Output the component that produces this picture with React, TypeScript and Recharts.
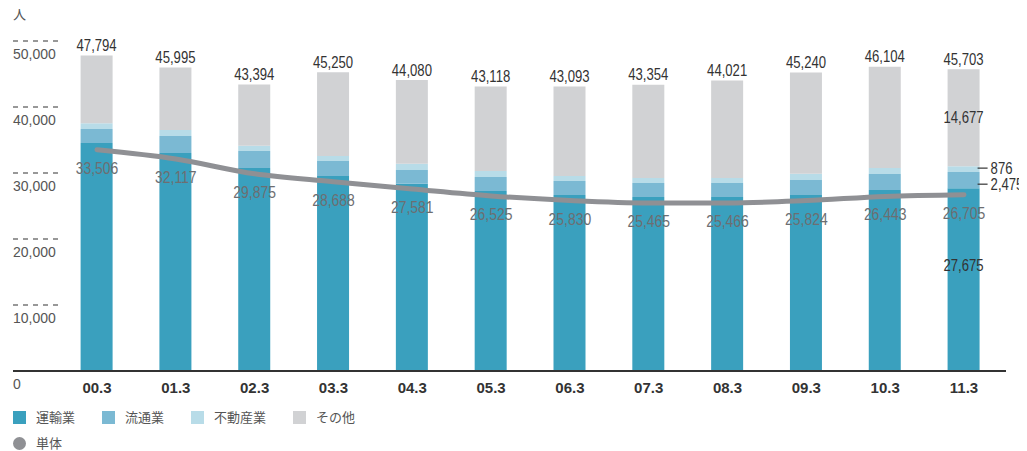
import React from 'react';
import {
  ComposedChart,
  Bar,
  Line,
  XAxis,
  YAxis,
  LabelList,
} from 'recharts';

const categories = ['00.3', '01.3', '02.3', '03.3', '04.3', '05.3', '06.3', '07.3', '08.3', '09.3', '10.3', '11.3'];
const transport = [34540, 33030, 30750, 29540, 28380, 27270, 26660, 26360, 26360, 26660, 27420, 27675];
const distribution = [2120, 2570, 2580, 2270, 2070, 2120, 2120, 2120, 2120, 2270, 2420, 2475];
const realEstate = [865, 910, 800, 760, 950, 910, 760, 760, 760, 950, 910, 876];
const others = [10269, 9485, 9264, 12680, 12680, 12818, 13553, 14114, 14781, 15360, 15354, 14677];
const totals = [47794, 45995, 43394, 45250, 44080, 43118, 43093, 43354, 44021, 45240, 46104, 45703];
const single = [33506, 32117, 29875, 28688, 27581, 26525, 25830, 25465, 25466, 25824, 26443, 26705];
const yTicks = [0, 10000, 20000, 30000, 40000, 50000];

const COLORS = {
  transport: '#3aa0be',
  distribution: '#7bb9d3',
  realEstate: '#b8dce8',
  others: '#d1d2d4',
  single: '#8f9094',
};

const SANS = "'Liberation Sans', Arial, Helvetica, sans-serif";
const CJK = "'Noto Sans CJK JP', 'Noto Sans', sans-serif";

const PLOT_LEFT = 5;
const LAST = categories.length - 1;

const data = categories.map((name, i) => ({
  name,
  transport: transport[i],
  distribution: distribution[i],
  realEstate: realEstate[i],
  others: others[i],
  single: single[i],
}));

const fmt = (v: number) => v.toLocaleString('en-US');

// no condensed face installed, so squeeze Liberation Sans horizontally
const NarrowText = ({ x, y, anchor = 'middle', size = 16, fill = '#333', children }: any) => (
  <text
    transform={`translate(${x},${y}) scale(0.82,1)`}
    textAnchor={anchor}
    dominantBaseline="central"
    fontSize={size}
    fill={fill}
    fontFamily={SANS}
  >
    {children}
  </text>
);

const YTick = ({ y, payload }: any) => (
  <g>
    {payload.value !== 0 && (
      <line x1={PLOT_LEFT} x2={PLOT_LEFT + 45} y1={y} y2={y} stroke="#333" strokeWidth={1.2} strokeDasharray="5 5" />
    )}
    <text x={PLOT_LEFT} y={y + 13} textAnchor="start" dominantBaseline="central" fontSize={14} fill="#555" fontFamily={SANS}>
      {fmt(payload.value)}
    </text>
  </g>
);

const XTick = ({ x, y, payload }: any) => (
  <text x={x} y={y + 16} textAnchor="middle" dominantBaseline="central" fontSize={15} fontWeight="bold" fill="#333" fontFamily={SANS}>
    {payload.value}
  </text>
);

const TotalLabel = (props: any) => {
  const { x, y, width, index } = props;
  return <NarrowText x={x + width / 2} y={y - 10}>{fmt(totals[index])}</NarrowText>;
};

// values written inside the last bar
const InsideLabel = (dy: number) => (props: any) => {
  const { x, y, width, height, index, value } = props;
  if (index !== LAST) return null;
  return <NarrowText x={x + width / 2} y={y + height / 2 + dy}>{fmt(value)}</NarrowText>;
};

// small segments of the last bar get a leader line to the right
const SideLabel = (dy: number) => (props: any) => {
  const { x, y, width, height, index, value } = props;
  if (index !== LAST) return null;
  const cy = y + height / 2 + dy;
  return (
    <g>
      <line x1={x + width - 2} x2={x + width + 8} y1={cy} y2={cy} stroke="#333" strokeWidth={1.2} />
      <NarrowText x={x + width + 11} y={cy} anchor="start">{fmt(value)}</NarrowText>
    </g>
  );
};

const LineLabel = (props: any) => {
  const { x, y, value } = props;
  return <NarrowText x={x} y={y + 18} size={17} fill="#6d6e71">{fmt(value)}</NarrowText>;
};

const legendItems = [
  { label: '運輸業', color: COLORS.transport },
  { label: '流通業', color: COLORS.distribution },
  { label: '不動産業', color: COLORS.realEstate },
  { label: 'その他', color: COLORS.others },
];

const Legend = () => (
  <div style={{ position: 'absolute', left: PLOT_LEFT, top: 402, fontFamily: CJK, fontSize: 13, color: '#555' }}>
    <div style={{ display: 'flex', alignItems: 'center', height: 14 }}>
      {legendItems.map((it) => (
        <div key={it.label} style={{ display: 'flex', alignItems: 'center', marginRight: 27 }}>
          <span style={{ width: 13, height: 13, background: it.color, display: 'inline-block', marginRight: 10 }} />
          <span style={{ lineHeight: '14px' }}>{it.label}</span>
        </div>
      ))}
    </div>
    <div style={{ display: 'flex', alignItems: 'center', height: 14, marginTop: 12 }}>
      <span style={{ width: 13, height: 13, borderRadius: '50%', background: COLORS.single, display: 'inline-block', marginRight: 10 }} />
      <span style={{ lineHeight: '14px' }}>単体</span>
    </div>
  </div>
);

export default function App() {
  return (
    <div style={{ position: 'relative', width: 1019, height: 443 }}>
      <span style={{ position: 'absolute', left: PLOT_LEFT, top: -1, fontFamily: CJK, fontSize: 13, lineHeight: '14px', color: '#555' }}>人</span>
      <ComposedChart width={1019} height={393} data={data} margin={{ top: 33, right: 21, bottom: 0, left: PLOT_LEFT - 1 }}>
        <XAxis
          dataKey="name"
          height={30}
          padding={{ left: 44.6, right: 2.6 }}
          axisLine={{ stroke: '#333', strokeWidth: 2 }}
          tickLine={false}
          tickSize={0}
          tickMargin={0}
          interval={0}
          tick={<XTick />}
        />
        <YAxis
          width={1}
          domain={[0, 50000]}
          ticks={yTicks}
          interval={0}
          axisLine={false}
          tickLine={false}
          tick={<YTick />}
        />
        <Bar dataKey="transport" stackId="a" fill={COLORS.transport} barSize={32} isAnimationActive={false}>
          <LabelList dataKey="transport" content={InsideLabel(-14)} />
        </Bar>
        <Bar dataKey="distribution" stackId="a" fill={COLORS.distribution} barSize={32} isAnimationActive={false}>
          <LabelList dataKey="distribution" content={SideLabel(4)} />
        </Bar>
        <Bar dataKey="realEstate" stackId="a" fill={COLORS.realEstate} barSize={32} isAnimationActive={false}>
          <LabelList dataKey="realEstate" content={SideLabel(-1)} />
        </Bar>
        <Bar dataKey="others" stackId="a" fill={COLORS.others} barSize={32} isAnimationActive={false}>
          <LabelList dataKey="others" content={InsideLabel(0)} />
          <LabelList dataKey="others" content={TotalLabel} />
        </Bar>
        <Line
          dataKey="single"
          type="monotone"
          stroke={COLORS.single}
          strokeWidth={5}
          strokeLinecap="round"
          dot={false}
          activeDot={false}
          isAnimationActive={false}
        >
          <LabelList dataKey="single" content={LineLabel} />
        </Line>
      </ComposedChart>
      <Legend />
    </div>
  );
}
